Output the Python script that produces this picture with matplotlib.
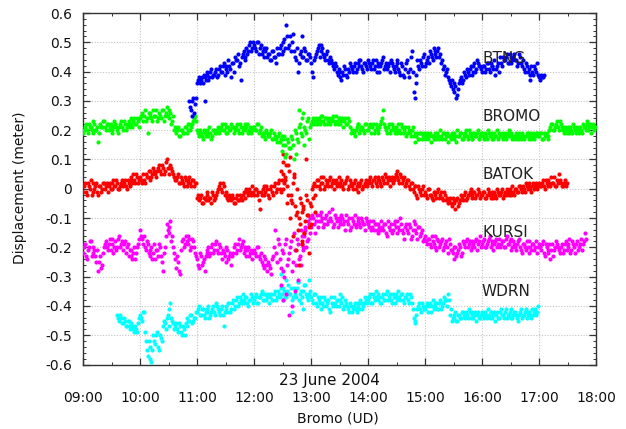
import numpy as np
import matplotlib
matplotlib.use("Agg")
import matplotlib.pyplot as plt
from matplotlib.ticker import MultipleLocator, FuncFormatter

# ---------------- data (displacement in metres) ----------------
# two interleaved sample sets per station: "a" at even minutes from the start time,
# "b" one minute later; both spaced every 2 minutes
STEP_MIN = 2

btng_start = "10:52"
btng = [0.30, 0.27, 0.31, 0.29,
        0.36, 0.38, 0.37, 0.36, 0.38, 0.39, 0.37, 0.40, 0.38, 0.39, 0.41, 0.39, 0.42, 0.40, 0.43,
        0.41, 0.40, 0.42, 0.38, 0.43, 0.45, 0.44, 0.42, 0.37, 0.46, 0.45, 0.48, 0.47, 0.50, 0.48,
        0.49, 0.47, 0.50, 0.48, 0.46, 0.48, 0.47, 0.45, 0.46, 0.44, 0.47, 0.45, 0.48, 0.46, 0.49,
        0.47, 0.51, 0.56, 0.48, 0.52, 0.50, 0.47, 0.44, 0.40, 0.46, 0.52, 0.45, 0.47, 0.44, 0.46,
        0.43, 0.38, 0.45, 0.47, 0.49, 0.47, 0.48, 0.45, 0.46, 0.44, 0.45, 0.43, 0.41, 0.42, 0.39,
        0.40, 0.37, 0.39, 0.41, 0.38, 0.40, 0.42, 0.40, 0.43, 0.41, 0.42, 0.44, 0.41, 0.43, 0.42,
        0.44, 0.42, 0.43, 0.41, 0.44, 0.42, 0.40, 0.43, 0.45, 0.42, 0.41, 0.43, 0.44, 0.42, 0.40,
        0.43, 0.41, 0.39, 0.42, 0.38, 0.43, 0.40, 0.41, 0.47, 0.33, 0.36, 0.44, 0.41, 0.43, 0.45,
        0.42, 0.44, 0.43, 0.46, 0.44, 0.47, 0.45, 0.48, 0.46, 0.44, 0.42, 0.40, 0.38, 0.36, 0.37,
        0.33, 0.35, 0.32, 0.36, 0.38, 0.37, 0.39, 0.41, 0.39, 0.42, 0.40, 0.43, 0.41, 0.43, 0.42,
        0.40, 0.42, 0.41, 0.43, 0.40, 0.42, 0.41, 0.39, 0.42, 0.40, 0.43, 0.45, 0.44, 0.46, 0.43,
        0.45, 0.44, 0.46, 0.44, 0.43, 0.45, 0.42, 0.41, 0.43, 0.40, 0.37, 0.42, 0.39, 0.41, 0.43,
        0.38, 0.39, 0.38]
btng_b = [0.28, 0.30, 0.26, 0.31,
          0.37, 0.36, 0.38, 0.39, 0.37, 0.40, 0.38, 0.41, 0.39, 0.40, 0.38, 0.41, 0.40, 0.42, 0.39,
          0.42, 0.44, 0.41, 0.43, 0.40, 0.44, 0.46, 0.43, 0.45, 0.47, 0.44, 0.46, 0.49, 0.47, 0.50,
          0.48, 0.50, 0.46, 0.49, 0.47, 0.45, 0.48, 0.46, 0.44, 0.47, 0.45, 0.43, 0.46, 0.48, 0.46,
          0.50, 0.48, 0.52, 0.49, 0.47, 0.53, 0.45, 0.48, 0.43, 0.47, 0.45, 0.48, 0.44, 0.46, 0.45,
          0.40, 0.44, 0.46, 0.48, 0.45, 0.49, 0.46, 0.44, 0.47, 0.43, 0.44, 0.42, 0.43, 0.40, 0.41,
          0.38, 0.40, 0.42, 0.39, 0.41, 0.43, 0.41, 0.42, 0.40, 0.43, 0.44, 0.42, 0.40, 0.43, 0.41,
          0.43, 0.41, 0.44, 0.42, 0.40, 0.43, 0.42, 0.44, 0.41, 0.43, 0.42, 0.40, 0.43, 0.41, 0.42,
          0.44, 0.40, 0.43, 0.39, 0.41, 0.44, 0.38, 0.45, 0.40, 0.31, 0.39, 0.42, 0.44, 0.42, 0.46,
          0.43, 0.45, 0.47, 0.45, 0.48, 0.46, 0.47, 0.45, 0.43, 0.41, 0.39, 0.41, 0.37, 0.35, 0.34,
          0.36, 0.31, 0.34, 0.37, 0.36, 0.40, 0.38, 0.40, 0.41, 0.39, 0.42, 0.40, 0.44, 0.42, 0.41,
          0.42, 0.40, 0.43, 0.41, 0.43, 0.42, 0.44, 0.41, 0.43, 0.45, 0.42, 0.44, 0.45, 0.43, 0.46,
          0.43, 0.45, 0.44, 0.42, 0.46, 0.43, 0.44, 0.40, 0.42, 0.41, 0.39, 0.40, 0.42, 0.40, 0.39,
          0.37, 0.38, 0.39]

bromo_start = "09:00"
bromo = [0.19, 0.21, 0.20, 0.22, 0.21, 0.19, 0.22, 0.20, 0.16, 0.22, 0.21, 0.23, 0.20, 0.22, 0.21,
         0.19, 0.21, 0.22, 0.20, 0.21, 0.23, 0.20, 0.22, 0.21, 0.23, 0.22, 0.21, 0.24, 0.22, 0.23,
         0.24, 0.26, 0.25, 0.23, 0.19, 0.26, 0.24, 0.27, 0.25, 0.23, 0.26, 0.24, 0.27, 0.25, 0.28,
         0.24, 0.26, 0.23, 0.20, 0.19, 0.21, 0.18, 0.20, 0.19, 0.21, 0.20, 0.22, 0.21, 0.23, 0.25,
         0.20, 0.18, 0.19, 0.17, 0.19, 0.20, 0.18, 0.19, 0.18, 0.20, 0.19, 0.21, 0.20, 0.22, 0.20,
         0.21, 0.19, 0.20, 0.22, 0.21, 0.20, 0.22, 0.19, 0.21, 0.20, 0.22, 0.21, 0.19, 0.21, 0.20,
         0.21, 0.20, 0.22, 0.20, 0.18, 0.19, 0.17, 0.19, 0.18, 0.20, 0.17, 0.18, 0.16, 0.19, 0.17,
         0.15, 0.18, 0.12, 0.16, 0.14, 0.17, 0.10, 0.19, 0.16, 0.22, 0.18, 0.26, 0.20, 0.23, 0.17,
         0.22, 0.24, 0.23, 0.22, 0.24, 0.23, 0.25, 0.22, 0.24, 0.23, 0.22, 0.24, 0.23, 0.25, 0.22,
         0.24, 0.23, 0.21, 0.24, 0.22, 0.23, 0.19, 0.20, 0.18, 0.21, 0.22, 0.20, 0.21, 0.19, 0.22,
         0.20, 0.22, 0.21, 0.19, 0.22, 0.20, 0.21, 0.23, 0.27, 0.21, 0.19, 0.22, 0.20, 0.21, 0.19,
         0.20, 0.22, 0.19, 0.21, 0.20, 0.18, 0.21, 0.19, 0.20, 0.18, 0.16, 0.19, 0.17, 0.19, 0.18,
         0.17, 0.19, 0.18, 0.16, 0.18, 0.19, 0.17, 0.18, 0.20, 0.17, 0.19, 0.18, 0.16, 0.18, 0.19,
         0.17, 0.18, 0.20, 0.18, 0.19, 0.17, 0.19, 0.18, 0.20, 0.18, 0.17, 0.19, 0.18, 0.20, 0.18,
         0.19, 0.17, 0.18, 0.20, 0.18, 0.19, 0.17, 0.18, 0.20, 0.19, 0.18, 0.17, 0.19, 0.18, 0.20,
         0.18, 0.17, 0.18, 0.19, 0.17, 0.18, 0.19, 0.17, 0.18, 0.19, 0.18, 0.17, 0.19, 0.18, 0.19,
         0.18, 0.19, 0.17, 0.18, 0.19, 0.18, 0.21, 0.22, 0.20, 0.22, 0.21, 0.23, 0.21, 0.19, 0.20,
         0.21, 0.19, 0.20, 0.22, 0.20, 0.21, 0.19, 0.20, 0.22, 0.21, 0.23, 0.20, 0.22, 0.21, 0.20]
bromo_b = [0.20, 0.22, 0.19, 0.21, 0.20, 0.23, 0.20, 0.21, 0.19, 0.21, 0.23, 0.21, 0.22, 0.20, 0.22,
           0.20, 0.23, 0.21, 0.19, 0.22, 0.21, 0.23, 0.20, 0.22, 0.21, 0.24, 0.23, 0.22, 0.24, 0.21,
           0.25, 0.23, 0.27, 0.24, 0.26, 0.25, 0.23, 0.25, 0.27, 0.24, 0.25, 0.27, 0.23, 0.26, 0.25,
           0.27, 0.22, 0.25, 0.21, 0.20, 0.18, 0.20, 0.19, 0.21, 0.19, 0.22, 0.20, 0.22, 0.24, 0.23,
           0.19, 0.20, 0.18, 0.20, 0.18, 0.19, 0.21, 0.17, 0.20, 0.19, 0.20, 0.19, 0.21, 0.20, 0.22,
           0.19, 0.21, 0.20, 0.21, 0.19, 0.21, 0.20, 0.22, 0.19, 0.21, 0.20, 0.22, 0.20, 0.19, 0.21,
           0.20, 0.22, 0.19, 0.21, 0.19, 0.18, 0.20, 0.18, 0.19, 0.17, 0.19, 0.17, 0.18, 0.16, 0.18,
           0.17, 0.15, 0.17, 0.14, 0.18, 0.15, 0.20, 0.17, 0.21, 0.19, 0.24, 0.21, 0.19, 0.24, 0.21,
           0.23, 0.22, 0.24, 0.23, 0.22, 0.25, 0.23, 0.24, 0.22, 0.24, 0.23, 0.25, 0.22, 0.23, 0.24,
           0.22, 0.24, 0.23, 0.22, 0.24, 0.21, 0.20, 0.19, 0.20, 0.22, 0.19, 0.21, 0.20, 0.22, 0.20,
           0.21, 0.19, 0.22, 0.20, 0.21, 0.19, 0.22, 0.24, 0.22, 0.20, 0.21, 0.19, 0.22, 0.20, 0.21,
           0.19, 0.20, 0.22, 0.19, 0.21, 0.19, 0.20, 0.18, 0.21, 0.19, 0.18, 0.17, 0.19, 0.17, 0.19,
           0.18, 0.17, 0.19, 0.18, 0.17, 0.18, 0.19, 0.17, 0.18, 0.19, 0.17, 0.19, 0.18, 0.17, 0.18,
           0.19, 0.16, 0.18, 0.19, 0.17, 0.18, 0.20, 0.17, 0.19, 0.17, 0.19, 0.18, 0.19, 0.17, 0.19,
           0.18, 0.19, 0.17, 0.19, 0.18, 0.17, 0.19, 0.18, 0.17, 0.18, 0.19, 0.18, 0.17, 0.19, 0.18,
           0.19, 0.18, 0.17, 0.18, 0.19, 0.17, 0.18, 0.18, 0.19, 0.17, 0.19, 0.18, 0.17, 0.19, 0.18,
           0.19, 0.17, 0.19, 0.18, 0.17, 0.20, 0.22, 0.20, 0.21, 0.23, 0.20, 0.22, 0.20, 0.21, 0.19,
           0.20, 0.21, 0.19, 0.21, 0.19, 0.20, 0.21, 0.19, 0.21, 0.20, 0.22, 0.21, 0.19, 0.22, 0.21]

batok_start = "09:00"
batok = [-0.01, 0.02, -0.02, 0.01, 0.03, -0.01, 0.00, 0.02, -0.02, 0.01, 0.00, 0.02, 0.01, -0.01, 0.02,
         0.00, 0.03, 0.01, 0.02, 0.00, 0.02, 0.01, 0.03, 0.00, 0.02, 0.04, 0.02, 0.03, 0.05, 0.02,
         0.04, 0.02, 0.03, 0.05, 0.04, 0.06, 0.04, 0.07, 0.05, 0.06, 0.08, 0.05, 0.07, 0.06, 0.10,
         0.07, 0.08, 0.06, 0.04, 0.03, 0.05, 0.02, 0.03, 0.01, 0.03, 0.02, 0.04, 0.01, 0.03, 0.02,
         -0.03, -0.04, -0.02, -0.05, -0.03, -0.02, -0.04, -0.03, -0.01, -0.04, -0.02, 0.00, 0.02, -0.01, 0.01,
         -0.01, -0.03, -0.02, -0.04, -0.03, -0.05, -0.02, -0.04, -0.03, -0.02, -0.01, 0.00, -0.02, -0.01, 0.01,
         -0.02, 0.00, -0.01, -0.07, -0.02, 0.01, -0.01, 0.00, -0.03, 0.01, -0.02, 0.02, 0.00, 0.03, -0.01,
         0.05, 0.02, 0.08, -0.02, 0.11, -0.05, 0.04, -0.09, -0.14, -0.03, -0.18, -0.07, -0.11, -0.04, -0.13,
         -0.06, 0.01, -0.02, 0.03, 0.01, 0.04, 0.02, 0.00, 0.03, 0.01, 0.04, 0.02, 0.00, 0.03, 0.02,
         0.01, 0.03, 0.00, 0.02, 0.04, 0.01, 0.02, 0.00, 0.03, 0.01, -0.01, 0.02, 0.00, 0.01, 0.03,
         0.02, 0.04, 0.01, 0.03, 0.02, 0.04, 0.03, 0.01, 0.03, 0.05, 0.02, 0.04, 0.03, 0.02, 0.04,
         0.06, 0.03, 0.05, 0.02, 0.04, 0.02, 0.03, 0.00, 0.02, -0.01, 0.01, -0.03, 0.00, -0.02, 0.01,
         -0.01, -0.03, 0.00, -0.02, -0.04, -0.01, -0.03, 0.00, -0.02, -0.03, -0.01, -0.04, -0.05, -0.03, -0.06,
         -0.04, -0.07, -0.03, -0.05, -0.02, -0.04, -0.01, -0.03, -0.02, 0.00, -0.03, -0.01, -0.02, 0.00, -0.03,
         -0.02, -0.01, -0.03, 0.00, -0.02, -0.01, -0.03, -0.02, 0.00, -0.02, -0.01, -0.03, -0.01, 0.00, -0.02,
         -0.01, 0.01, -0.02, 0.00, -0.01, 0.01, -0.01, 0.00, 0.02, 0.00, 0.01, -0.01, 0.02, 0.01, 0.00,
         0.02, 0.01, 0.03, 0.00, 0.02, 0.03, 0.01, 0.02, 0.04, 0.01, 0.02, 0.03, 0.01, 0.02, 0.01]
batok_b = [0.01, -0.01, 0.02, 0.00, -0.02, 0.02, 0.01, -0.01, 0.01, -0.01, 0.02, 0.00, 0.02, 0.01, 0.00,
           0.02, 0.01, 0.03, 0.00, 0.01, 0.03, 0.02, 0.01, 0.03, 0.01, 0.03, 0.05, 0.02, 0.04, 0.03,
           0.03, 0.05, 0.02, 0.04, 0.06, 0.03, 0.05, 0.06, 0.04, 0.07, 0.06, 0.08, 0.05, 0.09, 0.07,
           0.05, 0.07, 0.05, 0.03, 0.04, 0.02, 0.04, 0.02, 0.04, 0.01, 0.03, 0.02, 0.03, 0.01, 0.02,
           -0.02, -0.03, -0.05, -0.03, -0.04, -0.01, -0.03, -0.05, -0.02, -0.03, -0.01, 0.01, 0.00, 0.02, -0.02,
           -0.02, -0.04, -0.03, -0.02, -0.05, -0.03, -0.04, -0.02, -0.04, -0.01, -0.03, -0.01, 0.00, -0.02, -0.01,
           0.00, -0.02, -0.04, -0.01, 0.00, -0.02, 0.01, -0.02, 0.00, -0.01, 0.01, -0.01, 0.02, 0.00, 0.03,
           0.00, 0.04, 0.01, 0.06, -0.04, 0.02, -0.06, 0.00, -0.10, -0.05, -0.08, -0.15, -0.02, -0.09, -0.05,
           0.00, 0.02, 0.01, 0.03, 0.00, 0.02, 0.04, 0.01, 0.02, 0.03, 0.01, 0.03, 0.02, 0.01, 0.04,
           0.02, 0.01, 0.02, 0.03, 0.00, 0.03, 0.01, 0.02, 0.00, 0.02, 0.01, 0.03, 0.01, 0.02, 0.01,
           0.03, 0.02, 0.03, 0.04, 0.01, 0.03, 0.02, 0.04, 0.02, 0.04, 0.03, 0.01, 0.04, 0.03, 0.05,
           0.04, 0.02, 0.04, 0.03, 0.01, 0.03, 0.01, 0.02, 0.00, 0.01, -0.02, 0.01, -0.01, 0.00, -0.02,
           -0.02, 0.00, -0.02, -0.03, -0.01, -0.02, -0.01, -0.03, -0.01, -0.04, -0.02, -0.03, -0.04, -0.05, -0.03,
           -0.05, -0.04, -0.06, -0.04, -0.03, -0.02, -0.04, -0.02, -0.01, -0.02, -0.01, -0.03, -0.02, -0.01, -0.02,
           -0.01, -0.03, -0.02, -0.01, -0.03, -0.02, -0.01, -0.03, -0.01, -0.02, 0.00, -0.02, -0.02, -0.01, 0.00,
           -0.02, -0.01, 0.00, -0.01, 0.01, 0.00, 0.01, -0.01, 0.01, 0.02, 0.00, 0.01, 0.00, 0.02, 0.01,
           0.01, 0.02, 0.01, 0.03, 0.01, 0.02, 0.04, 0.02, 0.01, 0.03, 0.05, 0.02, 0.01, 0.03, 0.02]

kursi_start = "09:00"
kursi = [-0.22, -0.19, -0.24, -0.20, -0.18, -0.22, -0.21, -0.25, -0.28, -0.23, -0.26, -0.20, -0.18, -0.21, -0.17,
         -0.19, -0.22, -0.18, -0.20, -0.16, -0.19, -0.21, -0.18, -0.20, -0.23, -0.21, -0.24, -0.20, -0.22, -0.19,
         -0.14, -0.17, -0.16, -0.21, -0.19, -0.23, -0.20, -0.22, -0.24, -0.21, -0.19, -0.23, -0.28, -0.20, -0.12,
         -0.15, -0.11, -0.16, -0.22, -0.27, -0.25, -0.29, -0.18, -0.20, -0.16, -0.19, -0.17, -0.20, -0.18, -0.22,
         -0.24, -0.27, -0.23, -0.25, -0.28, -0.22, -0.20, -0.22, -0.19, -0.21, -0.18, -0.22, -0.20, -0.24, -0.22,
         -0.25, -0.21, -0.23, -0.26, -0.22, -0.19, -0.21, -0.17, -0.20, -0.18, -0.21, -0.23, -0.20, -0.22, -0.24,
         -0.21, -0.23, -0.20, -0.24, -0.25, -0.27, -0.24, -0.28, -0.26, -0.29, -0.23, -0.14, -0.25, -0.19, -0.27,
         -0.22, -0.30, -0.17, -0.24, -0.20, -0.28, -0.15, -0.26, -0.19, -0.23, -0.16, -0.21, -0.14, -0.18, -0.12,
         -0.13, -0.10, -0.15, -0.09, -0.11, -0.08, -0.10, -0.12, -0.09, -0.11, -0.10, -0.07, -0.12, -0.10, -0.13,
         -0.11, -0.09, -0.12, -0.14, -0.11, -0.10, -0.13, -0.11, -0.09, -0.12, -0.10, -0.13, -0.11, -0.12, -0.10,
         -0.12, -0.11, -0.13, -0.14, -0.12, -0.15, -0.13, -0.11, -0.14, -0.12, -0.16, -0.13, -0.12, -0.14, -0.11,
         -0.15, -0.13, -0.10, -0.14, -0.17, -0.12, -0.15, -0.13, -0.16, -0.11, -0.14, -0.17, -0.13, -0.15, -0.18,
         -0.16, -0.19, -0.17, -0.20, -0.18, -0.16, -0.21, -0.18, -0.19, -0.17, -0.20, -0.18, -0.22, -0.19, -0.21,
         -0.24, -0.20, -0.22, -0.19, -0.23, -0.18, -0.20, -0.17, -0.19, -0.21, -0.18, -0.20, -0.17, -0.19, -0.16,
         -0.19, -0.17, -0.20, -0.18, -0.16, -0.19, -0.21, -0.18, -0.20, -0.17, -0.19, -0.18, -0.20, -0.16, -0.19,
         -0.17, -0.20, -0.19, -0.21, -0.18, -0.20, -0.22, -0.19, -0.21, -0.20, -0.18, -0.21, -0.19, -0.20, -0.22,
         -0.19, -0.21, -0.18, -0.23, -0.20, -0.22, -0.24, -0.19, -0.21, -0.18, -0.20, -0.22, -0.19, -0.21, -0.18,
         -0.20, -0.17, -0.21, -0.19, -0.22, -0.18, -0.20, -0.17, -0.19, -0.15]
kursi_b = [-0.20, -0.23, -0.21, -0.18, -0.23, -0.20, -0.23, -0.21, -0.25, -0.27, -0.22, -0.19, -0.20, -0.19, -0.21,
           -0.17, -0.20, -0.21, -0.17, -0.20, -0.18, -0.19, -0.22, -0.19, -0.21, -0.23, -0.22, -0.24, -0.20, -0.17,
           -0.16, -0.19, -0.20, -0.18, -0.22, -0.21, -0.24, -0.19, -0.21, -0.23, -0.20, -0.25, -0.22, -0.16, -0.14,
           -0.13, -0.18, -0.20, -0.24, -0.23, -0.28, -0.21, -0.17, -0.19, -0.18, -0.16, -0.21, -0.17, -0.20, -0.23,
           -0.26, -0.22, -0.26, -0.24, -0.23, -0.21, -0.23, -0.20, -0.22, -0.19, -0.21, -0.19, -0.22, -0.21, -0.23,
           -0.20, -0.24, -0.22, -0.23, -0.20, -0.22, -0.19, -0.21, -0.19, -0.22, -0.20, -0.21, -0.23, -0.21, -0.22,
           -0.22, -0.20, -0.23, -0.22, -0.26, -0.23, -0.26, -0.25, -0.27, -0.24, -0.20, -0.22, -0.17, -0.24, -0.21,
           -0.28, -0.19, -0.26, -0.22, -0.18, -0.25, -0.21, -0.17, -0.24, -0.14, -0.19, -0.16, -0.20, -0.11, -0.15,
           -0.09, -0.12, -0.11, -0.13, -0.09, -0.11, -0.13, -0.10, -0.12, -0.08, -0.11, -0.13, -0.09, -0.11, -0.10,
           -0.12, -0.10, -0.11, -0.09, -0.12, -0.14, -0.10, -0.12, -0.13, -0.11, -0.12, -0.10, -0.12, -0.14, -0.11,
           -0.13, -0.14, -0.11, -0.12, -0.14, -0.12, -0.14, -0.13, -0.12, -0.15, -0.11, -0.14, -0.15, -0.12, -0.13,
           -0.11, -0.14, -0.12, -0.15, -0.13, -0.14, -0.12, -0.17, -0.14, -0.12, -0.15, -0.13, -0.16, -0.14, -0.17,
           -0.18, -0.17, -0.19, -0.16, -0.19, -0.20, -0.17, -0.20, -0.18, -0.21, -0.19, -0.20, -0.17, -0.21, -0.22,
           -0.20, -0.23, -0.21, -0.20, -0.22, -0.19, -0.18, -0.20, -0.18, -0.20, -0.19, -0.18, -0.21, -0.18, -0.20,
           -0.18, -0.20, -0.19, -0.17, -0.20, -0.18, -0.19, -0.17, -0.19, -0.20, -0.18, -0.20, -0.17, -0.19, -0.18,
           -0.21, -0.18, -0.20, -0.19, -0.17, -0.21, -0.19, -0.20, -0.18, -0.22, -0.20, -0.19, -0.21, -0.18, -0.20,
           -0.20, -0.19, -0.22, -0.19, -0.21, -0.19, -0.21, -0.23, -0.20, -0.19, -0.21, -0.20, -0.22, -0.19, -0.21,
           -0.19, -0.22, -0.18, -0.20, -0.19, -0.21, -0.19, -0.21, -0.18, -0.17]

wdrn_start = "09:36"
wdrn = [-0.43, -0.45, -0.44, -0.46, -0.45, -0.47, -0.45, -0.48, -0.47, -0.49, -0.48, -0.46,
        -0.43, -0.45, -0.42, -0.52, -0.57, -0.54, -0.59, -0.50, -0.53, -0.49, -0.55, -0.51, -0.47, -0.46, -0.44,
        -0.47, -0.39, -0.45, -0.48, -0.46, -0.49, -0.47, -0.50, -0.48, -0.46, -0.44, -0.45, -0.43, -0.45, -0.44,
        -0.42, -0.40, -0.43, -0.41, -0.44, -0.42, -0.40, -0.43, -0.41, -0.42, -0.39, -0.41, -0.43, -0.40, -0.47,
        -0.41, -0.42, -0.39, -0.41, -0.38, -0.40, -0.37, -0.39, -0.38, -0.36, -0.39, -0.37, -0.40, -0.38, -0.37,
        -0.38, -0.36, -0.39, -0.37, -0.35, -0.38, -0.36, -0.37, -0.39, -0.36, -0.38, -0.35, -0.37, -0.36, -0.34,
        -0.38, -0.35, -0.37, -0.33, -0.36, -0.38, -0.34, -0.37, -0.32, -0.36, -0.39, -0.35, -0.33, -0.37, -0.36,
        -0.37, -0.39, -0.36, -0.40, -0.38, -0.41, -0.39, -0.37, -0.40, -0.38, -0.42, -0.39, -0.37, -0.40, -0.38,
        -0.36, -0.39, -0.41, -0.38, -0.40, -0.42, -0.40, -0.41, -0.39, -0.42, -0.40, -0.38, -0.41, -0.39, -0.38,
        -0.38, -0.36, -0.39, -0.37, -0.35, -0.38, -0.37, -0.39, -0.36, -0.38, -0.35, -0.37, -0.38, -0.36, -0.39,
        -0.37, -0.35, -0.38, -0.36, -0.39, -0.37, -0.38, -0.36, -0.39, -0.44, -0.46, -0.41, -0.39, -0.42, -0.40,
        -0.41, -0.39, -0.40, -0.42, -0.38, -0.40, -0.39, -0.41, -0.38, -0.40, -0.37, -0.38, -0.36, -0.43, -0.45,
        -0.44, -0.42, -0.45, -0.43, -0.44, -0.42, -0.44, -0.43, -0.41, -0.44, -0.42, -0.43, -0.45, -0.42, -0.44,
        -0.42, -0.44, -0.43, -0.41, -0.44, -0.42, -0.43, -0.45, -0.42, -0.44, -0.41, -0.43, -0.42, -0.44, -0.43,
        -0.41, -0.44, -0.42, -0.43, -0.45, -0.42, -0.44, -0.43, -0.41, -0.43, -0.42, -0.44, -0.43, -0.41, -0.42]
wdrn_b = [-0.44, -0.43, -0.46, -0.44, -0.47, -0.45, -0.47, -0.46, -0.48, -0.47, -0.49, -0.44,
          -0.44, -0.42, -0.49, -0.55, -0.52, -0.58, -0.55, -0.52, -0.50, -0.54, -0.50, -0.52, -0.45, -0.48, -0.43,
          -0.41, -0.44, -0.46, -0.47, -0.48, -0.46, -0.49, -0.47, -0.50, -0.47, -0.45, -0.43, -0.46, -0.44, -0.42,
          -0.41, -0.43, -0.41, -0.43, -0.42, -0.41, -0.44, -0.42, -0.40, -0.43, -0.40, -0.42, -0.41, -0.43, -0.42,
          -0.40, -0.39, -0.42, -0.39, -0.41, -0.38, -0.40, -0.37, -0.39, -0.38, -0.37, -0.39, -0.38, -0.36, -0.39,
          -0.37, -0.39, -0.37, -0.36, -0.38, -0.36, -0.38, -0.36, -0.37, -0.38, -0.36, -0.38, -0.35, -0.37, -0.36,
          -0.34, -0.37, -0.35, -0.36, -0.34, -0.37, -0.36, -0.34, -0.38, -0.35, -0.37, -0.33, -0.36, -0.38, -0.35,
          -0.38, -0.36, -0.39, -0.37, -0.39, -0.37, -0.40, -0.38, -0.39, -0.41, -0.37, -0.40, -0.39, -0.38, -0.40,
          -0.38, -0.37, -0.40, -0.39, -0.41, -0.39, -0.42, -0.40, -0.41, -0.39, -0.41, -0.39, -0.40, -0.37, -0.39,
          -0.37, -0.39, -0.36, -0.38, -0.37, -0.36, -0.39, -0.37, -0.38, -0.36, -0.38, -0.36, -0.39, -0.37, -0.36,
          -0.38, -0.37, -0.36, -0.38, -0.37, -0.36, -0.39, -0.37, -0.41, -0.45, -0.43, -0.40, -0.41, -0.39, -0.41,
          -0.40, -0.42, -0.39, -0.40, -0.41, -0.39, -0.41, -0.39, -0.41, -0.39, -0.38, -0.40, -0.38, -0.41, -0.44,
          -0.43, -0.45, -0.43, -0.44, -0.42, -0.43, -0.42, -0.44, -0.42, -0.43, -0.44, -0.42, -0.43, -0.44, -0.43,
          -0.43, -0.42, -0.44, -0.43, -0.42, -0.44, -0.42, -0.43, -0.44, -0.42, -0.43, -0.44, -0.41, -0.43, -0.42,
          -0.44, -0.43, -0.42, -0.44, -0.43, -0.41, -0.43, -0.42, -0.44, -0.42, -0.43, -0.41, -0.42, -0.43, -0.40]

# extra scattered samples (mostly during the 12:30-13:00 disturbance)
btng_extra_t = ["10:55", "11:08"]
btng_extra_v = [0.25, 0.30]
bromo_extra_t = ["12:29", "12:33", "12:38", "12:44", "12:47", "12:53"]
bromo_extra_v = [0.13, 0.11, 0.14, 0.12, 0.27, 0.15]
batok_extra_t = ["12:28", "12:30", "12:31", "12:33", "12:35", "12:36", "12:38", "12:39", "12:41", "12:42",
                 "12:44", "12:45", "12:47", "12:48", "12:50", "12:52", "12:53", "12:55", "12:56", "12:58",
                 "13:00", "13:02", "13:04"]
batok_extra_v = [0.06, 0.09, 0.12, 0.03, -0.05, 0.08, -0.10, -0.02, -0.16, 0.05,
                 -0.21, -0.08, -0.26, -0.12, -0.19, -0.06, -0.15, 0.10, -0.09, -0.22,
                 -0.12, -0.03, -0.08]
kursi_extra_t = ["12:28", "12:31", "12:34", "12:37", "12:40", "12:43", "12:46", "12:49", "12:52", "12:54",
                 "12:57", "12:59"]
kursi_extra_v = [-0.33, -0.38, -0.36, -0.43, -0.40, -0.35, -0.31, -0.26, -0.20, -0.13, -0.17, -0.10]
wdrn_extra_t = ["12:28", "12:34", "12:40", "12:46", "12:52", "12:58"]
wdrn_extra_v = [-0.29, -0.31, -0.42, -0.32, -0.41, -0.31]

station_names = ["BTNG", "BROMO", "BATOK", "KURSI", "WDRN"]
station_colors = ["#0000ff", "#00ff00", "#ff0000", "#ff00ff", "#00ffff"]
label_y = [0.445, 0.248, 0.047, -0.151, -0.352]
label_time = "16:00"


def hm(s):
    h, m = s.split(":")
    return int(h) + int(m) / 60.0


def series_times(start, n, offset_min=0):
    return hm(start) + (np.arange(n) * STEP_MIN + offset_min) / 60.0


series = [
    (btng_start, btng, btng_b, btng_extra_t, btng_extra_v),
    (bromo_start, bromo, bromo_b, bromo_extra_t, bromo_extra_v),
    (batok_start, batok, batok_b, batok_extra_t, batok_extra_v),
    (kursi_start, kursi, kursi_b, kursi_extra_t, kursi_extra_v),
    (wdrn_start, wdrn, wdrn_b, wdrn_extra_t, wdrn_extra_v),
]

# ---------------- figure ----------------
fig = plt.figure(figsize=(6.26, 4.29), dpi=100)
ax = fig.add_axes([83 / 626, 64.5 / 429, 513 / 626, 351.5 / 429])

MS = 9
for i in [4, 3, 2, 1, 0]:
    start, va, vb, et, ev = series[i]
    z = 3 + (4 - i) * 0.1
    ax.scatter(series_times(start, len(va)), va, s=MS, color=station_colors[i], linewidths=0, zorder=z)
    ax.scatter(series_times(start, len(vb), 1), vb, s=MS, color=station_colors[i], linewidths=0, zorder=z)
    ax.scatter([hm(x) for x in et], ev, s=MS, color=station_colors[i], linewidths=0, zorder=z)

for name, yv in zip(station_names, label_y):
    ax.text(hm(label_time), yv, name, fontsize=11, ha="left", va="center", color="#222222", zorder=5)

ax.set_xlim(9, 18)
ax.set_ylim(-0.6, 0.6)
ax.xaxis.set_major_locator(MultipleLocator(1))
ax.xaxis.set_minor_locator(MultipleLocator(0.5))
ax.yaxis.set_major_locator(MultipleLocator(0.1))
ax.yaxis.set_minor_locator(MultipleLocator(0.02))
ax.xaxis.set_major_formatter(FuncFormatter(lambda v, p: "%02d:00" % int(round(v))))
ax.yaxis.set_major_formatter(FuncFormatter(lambda v, p: ("%g" % round(v, 2)) if abs(v) > 1e-9 else "0"))

ax.grid(True, which="major", linestyle=(0, (1, 1.5)), color="#c4c4c4", linewidth=0.8, zorder=0)
ax.set_axisbelow(True)
for sp in ax.spines.values():
    sp.set_color("#333333")
    sp.set_linewidth(1.0)
ax.tick_params(which="both", direction="in", top=True, right=True, colors="#333333",
               labelcolor="#111111", labelsize=10)
ax.tick_params(which="major", length=5, width=0.9)
ax.tick_params(which="minor", length=2.5, width=0.7)
ax.tick_params(axis="x", which="major", pad=19)
ax.tick_params(axis="y", which="major", pad=8)

fig.text(0.527, (429 - 380) / 429, "23 June 2004", ha="center", va="center", fontsize=11, color="#111111")
fig.text(0.54, (429 - 418) / 429, "Bromo (UD)", ha="center", va="center", fontsize=10, color="#111111")
fig.text(20 / 626, (429 - 188) / 429, "Displacement (meter)", rotation=90, ha="center", va="center",
         fontsize=10, color="#111111")

fig.savefig("out.png", dpi=100)
